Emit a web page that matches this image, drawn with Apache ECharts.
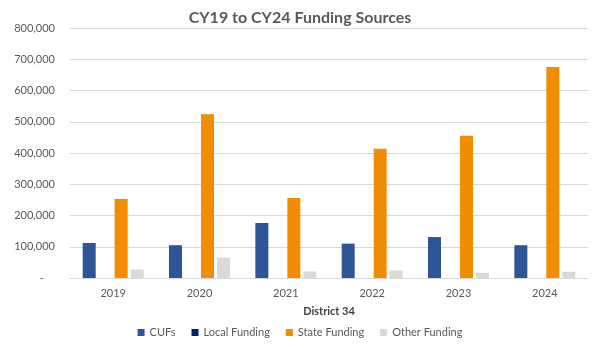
<!DOCTYPE html>
<html><head><meta charset="utf-8">
<script src="https://cdn.jsdelivr.net/npm/echarts@6/dist/echarts.min.js"></script>
<style>html,body{margin:0;padding:0;background:#fff}#c{width:600px;height:348px}</style>
</head><body><div id="c"></div>
<script>
const categories = ['2019','2020','2021','2022','2023','2024'];
const cufs = [112000, 105000, 176000, 110000, 131000, 105000];
const localFunding = [0, 0, 0, 0, 0, 0];
const stateFunding = [253000, 524000, 256000, 414000, 455000, 675000];
const otherFunding = [27000, 65000, 21000, 24000, 17000, 20000];
const yTicks = [0,100000,200000,300000,400000,500000,600000,700000,800000];

const font = 'Lato, "Open Sans", sans-serif';
const chart = echarts.init(document.getElementById('c'));
function mk(name, data, color){
  return {name, type:'bar', data, barWidth:13, barGap:'23%', itemStyle:{color}};
}
chart.setOption({
  animation:false,
  textStyle:{fontFamily:font},
  title:{text:'CY19 to CY24 Funding Sources', left:'center', top:5,
    textStyle:{fontFamily:font, fontSize:16, fontWeight:'bold', color:'#595959'}},
  grid:{left:70, right:12, top:28, bottom:70},
  legend:{bottom:5, left:'center', itemWidth:7, itemHeight:7, itemGap:16, icon:'rect',
    textStyle:{fontFamily:font, fontSize:11, color:'#595959'}},
  xAxis:{type:'category', data:categories, name:'District 34', nameLocation:'middle', nameGap:28,
    nameTextStyle:{fontFamily:font, fontSize:11, fontWeight:'bold', color:'#404040'},
    axisLine:{lineStyle:{color:'#D9D9D9'}}, axisTick:{show:false},
    axisLabel:{fontFamily:font, fontSize:11, color:'#595959', margin:10}},
  yAxis:{type:'value', min:yTicks[0], max:yTicks[yTicks.length-1], interval:100000,
    axisLine:{show:false}, axisTick:{show:false},
    splitLine:{lineStyle:{color:'#D9D9D9'}},
    axisLabel:{fontFamily:font, fontSize:11, color:'#595959', margin:15,
      formatter:v => v===0 ? '-    ' : v.toLocaleString('en-US')}},
  series:[
    mk('CUFs', cufs, '#2F5597'),
    mk('Local Funding', localFunding, '#002060'),
    mk('State Funding', stateFunding, '#F28C00'),
    mk('Other Funding', otherFunding, '#D9D9D9')
  ]
});
</script></body></html>
